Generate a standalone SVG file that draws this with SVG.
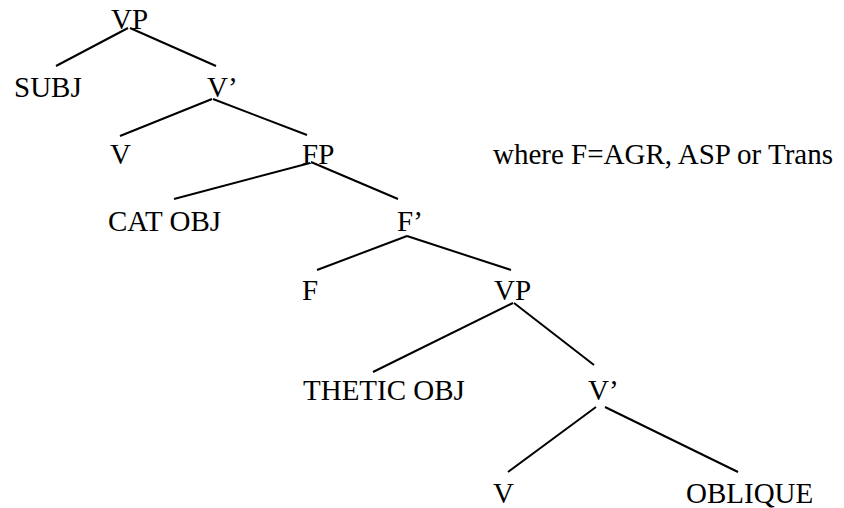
<svg xmlns="http://www.w3.org/2000/svg" width="844" height="508" viewBox="0 0 844 508">
<style>
text { font-family: "Liberation Serif", "Times New Roman", serif; font-size: 29px; fill: #000; }
.edge { stroke: #000; stroke-width: 2; fill: none; }
</style>
<rect width="844" height="508" fill="#fff"/>
<g id="connectors">
<line class="edge" x1="128" y1="28" x2="56" y2="66"/>
<line class="edge" x1="130" y1="28" x2="216" y2="66"/>
<line class="edge" x1="212" y1="99" x2="120" y2="136"/>
<line class="edge" x1="213" y1="99" x2="307" y2="135"/>
<line class="edge" x1="310" y1="163" x2="174" y2="199"/>
<line class="edge" x1="311" y1="162" x2="398" y2="199"/>
<line class="edge" x1="407" y1="236" x2="317" y2="270"/>
<line class="edge" x1="407" y1="236" x2="511" y2="270"/>
<line class="edge" x1="513" y1="303" x2="373" y2="372"/>
<line class="edge" x1="514" y1="303" x2="594" y2="365"/>
<line class="edge" x1="596" y1="407" x2="508" y2="472"/>
<line class="edge" x1="605" y1="407" x2="738" y2="472"/>
</g>
<g id="n-vp1"><text x="111" y="29">VP</text></g>
<g id="n-subj"><text x="14" y="97">SUBJ</text></g>
<g id="n-vbar1"><text x="207" y="97">V’</text></g>
<g id="n-v1"><text x="110" y="164">V</text></g>
<g id="n-fp"><text x="302" y="164">FP</text></g>
<g id="n-note"><text x="493" y="164">where F=AGR, ASP or Trans</text></g>
<g id="n-catobj"><text x="108" y="231">CAT OBJ</text></g>
<g id="n-fbar"><text x="397" y="231">F’</text></g>
<g id="n-f"><text x="302" y="300">F</text></g>
<g id="n-vp2"><text x="494" y="300">VP</text></g>
<g id="n-theticobj"><text x="303" y="400">THETIC OBJ</text></g>
<g id="n-vbar2"><text x="588" y="400">V’</text></g>
<g id="n-v2"><text x="493" y="503">V</text></g>
<g id="n-oblique"><text x="686" y="503">OBLIQUE</text></g>
</svg>
